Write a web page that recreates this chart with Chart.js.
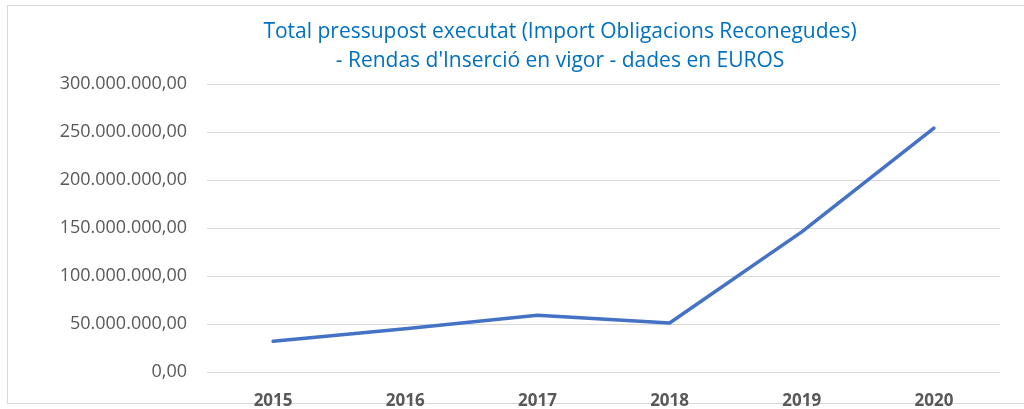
<!DOCTYPE html>
<html>
<head>
<meta charset="utf-8">
<script src="https://cdn.jsdelivr.net/npm/chart.js@4.4.1/dist/chart.umd.min.js"></script>
<style>
    html, body { margin: 0; padding: 0; background: #fff; overflow: hidden; }
    .frame {
        position: absolute; left: 7px; top: 5px; width: 1120px; height: 399px;
        border: 1.5px solid #d9d9d9; box-sizing: border-box;
    }
    .title {
        position: absolute; left: 0; top: 16px; width: 1120px;
        text-align: center; color: #0070c0;
        font-family: "Open Sans", sans-serif; font-size: 21px; line-height: 29px;
    }
    #chart { position: absolute; left: 0; top: 0; }
</style>
</head>
<body>
<div class="frame"></div>
<canvas id="chart" width="1024" height="409"></canvas>
<div class="title">Total pressupost executat (Import Obligacions Reconegudes)<br>- Rendas d'Inserció en vigor - dades en EUROS</div>
<script>
// Rendas d'Inserció - pressupost executat

const years = ['2015', '2016', '2017', '2018', '2019', '2020'];
const totalExecutat = [32000000, 45000000, 59000000, 51000000, 146000000, 254000000];
const yTicks = [0, 50000000, 100000000, 150000000, 200000000, 250000000, 300000000];

// 300000000 -> "300.000.000,00"
function formatEuros(value) {
    const parts = Math.round(value).toString().replace(/\B(?=(\d{3})+(?!\d))/g, '.');
    return parts + ',00';
}

(function() {
    'use strict';

    const ctx = document.getElementById('chart');

    new Chart(ctx, {
        type: 'line',
        data: {
            labels: years,
            datasets: [{
                label: 'Total pressupost executat',
                data: totalExecutat,
                borderColor: '#4472c4',
                borderWidth: 3.5,
                pointRadius: 0,
                tension: 0,
                fill: false,
                borderCapStyle: 'round',
                borderJoinStyle: 'round'
            }]
        },
        options: {
            responsive: false,
            animation: false,
            layout: {
                padding: { left: 0, right: 24, top: 84, bottom: 0 }
            },
            plugins: {
                legend: { display: false },
                tooltip: { enabled: false },
                title: { display: false }
            },
            scales: {
                y: {
                    min: yTicks[0],
                    max: yTicks[yTicks.length - 1],
                    afterBuildTicks: function(scale) {
                        scale.ticks = yTicks.map(v => ({ value: v }));
                    },
                    afterFit: function(scale) {
                        scale.width = 207;
                    },
                    border: { display: false },
                    grid: {
                        color: '#d9d9d9',
                        lineWidth: 1,
                        drawTicks: false
                    },
                    ticks: {
                        padding: 20,
                        color: '#595959',
                        font: { family: 'Open Sans', size: 18 },
                        callback: function(value) {
                            return formatEuros(value);
                        }
                    }
                },
                x: {
                    offset: true,
                    afterFit: function(scale) {
                        scale.height = 37;
                    },
                    border: { display: false },
                    grid: { display: false, drawTicks: false, offset: true },
                    ticks: {
                        padding: 19,
                        color: '#595959',
                        font: { family: 'Open Sans', size: 17, weight: 'bold' }
                    }
                }
            }
        }
    });
})();
</script>
</body>
</html>
